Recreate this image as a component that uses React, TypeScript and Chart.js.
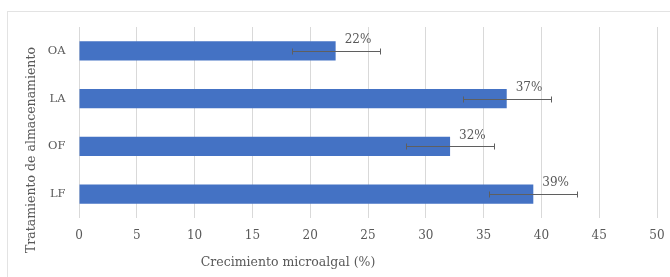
import React, { useEffect, useRef } from "react";
import { Chart, registerables } from "chart.js";

Chart.register(...registerables);

const categories = ["OA", "LA", "OF", "LF"];
const values = [22.2, 37.0, 32.1, 39.3];
const errors = [3.8, 3.8, 3.8, 3.8];
const valueLabels = ["22%", "37%", "32%", "39%"];
const xTitle = "Crecimiento microalgal (%)";
const yTitle = "Tratamiento de almacenamiento";

const FONT = "'DejaVu Serif', serif";
const TEXT = "#595959";

const errorBarPlugin = {
  id: "errorBars",
  afterDatasetsDraw(chart: any) {
    const ctx = chart.ctx;
    const xs = chart.scales.x;
    const meta = chart.getDatasetMeta(0);
    ctx.save();
    ctx.strokeStyle = "#5f5f5f";
    ctx.lineWidth = 1;
    meta.data.forEach((el: any, i: number) => {
      const y = Math.round(el.y) + 0.5;
      const x1 = Math.round(xs.getPixelForValue(values[i] - errors[i])) + 0.5;
      const x2 = Math.round(xs.getPixelForValue(values[i] + errors[i])) + 0.5;
      ctx.beginPath();
      ctx.moveTo(x1, y);
      ctx.lineTo(x2, y);
      ctx.moveTo(x1, y - 3);
      ctx.lineTo(x1, y + 3);
      ctx.moveTo(x2, y - 3);
      ctx.lineTo(x2, y + 3);
      ctx.stroke();
    });
    // value labels
    ctx.fillStyle = TEXT;
    ctx.font = `12px ${FONT}`;
    ctx.textAlign = "left";
    ctx.textBaseline = "middle";
    meta.data.forEach((el: any, i: number) => {
      ctx.fillText(valueLabels[i], el.x + 9, el.y - 11);
    });
    // axis titles
    ctx.font = `12.5px ${FONT}`;
    ctx.textAlign = "center";
    ctx.fillText(xTitle, 288, 263);
    ctx.translate(32, 150);
    ctx.rotate(-Math.PI / 2);
    ctx.fillText(yTitle, 0, 0);
    ctx.restore();
  },
};

export default function App() {
  const ref = useRef<HTMLCanvasElement | null>(null);
  useEffect(() => {
    if (!ref.current) return;
    const chart = new Chart(ref.current, {
      type: "bar",
      data: {
        labels: categories,
        datasets: [
          {
            data: values,
            backgroundColor: "#4472C4",
            borderWidth: 0,
            categoryPercentage: 0.8,
            barPercentage: 0.5,
          },
        ],
      },
      options: {
        indexAxis: "y",
        responsive: false,
        animation: false,
        layout: { padding: { left: 0, right: 13, top: 27, bottom: 0 } },
        plugins: { legend: { display: false }, tooltip: { enabled: false } },
        scales: {
          x: {
            min: 0,
            max: 50,
            ticks: {
              stepSize: 5,
              color: TEXT,
              font: { family: FONT, size: 12 },
              padding: 10.5,
            },
            grid: { color: "#d9d9d9", drawTicks: false },
            border: { display: false },
            afterFit(scale: any) {
              scale.height = 59;
              scale.paddingLeft = 0;
              scale.paddingRight = 0;
            },
          },
          y: {
            ticks: {
              color: TEXT,
              font: { family: FONT, size: 11.5 },
              padding: 13.5,
            },
            grid: { display: false, drawTicks: false },
            border: { display: false },
            afterFit(scale: any) {
              scale.width = 79;
            },
          },
        },
      },
      plugins: [errorBarPlugin],
    });
    return () => chart.destroy();
  }, []);
  return (
    <div style={{ position: "fixed", left: 0, top: 0, width: 670, height: 277, background: "#fff", overflow: "hidden" }}>
      <div
        style={{
          position: "absolute",
          left: 7,
          top: 11,
          width: 700,
          height: 300,
          border: "1px solid #e3e3e3",
        }}
      />
      <canvas ref={ref} width={670} height={277} style={{ position: "absolute", left: 0, top: 0 }} />
    </div>
  );
}
